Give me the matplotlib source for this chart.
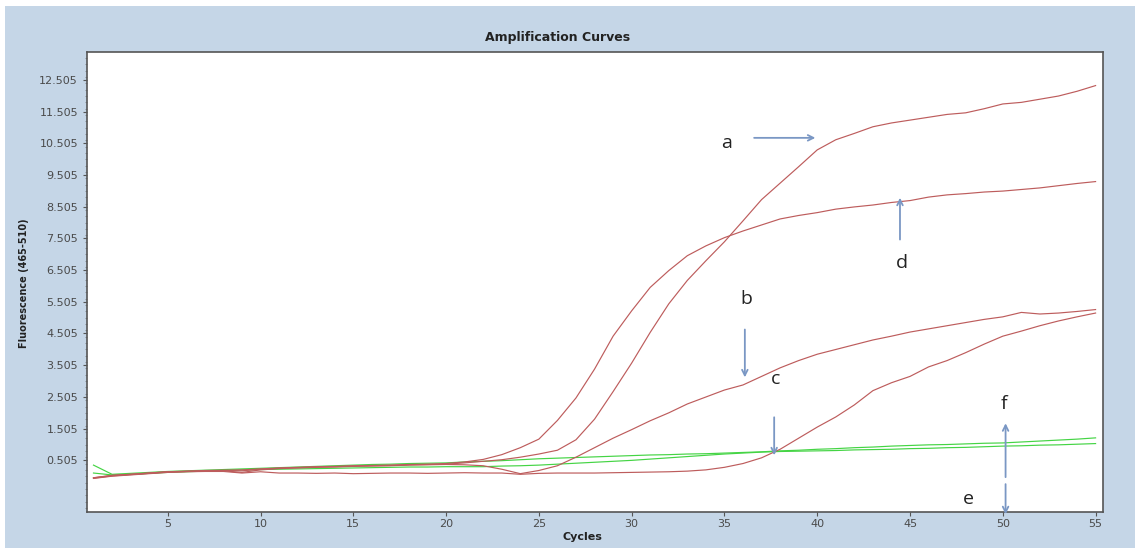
import matplotlib.pyplot as plt
import numpy as np
from matplotlib.patches import Rectangle

cycles = list(range(1, 56))

# red sample curves (fluorescence, one value per cycle)
curve_a = [-0.05, 0.02, 0.06, 0.10, 0.14, 0.15, 0.17, 0.18, 0.17, 0.22,
           0.25, 0.27, 0.29, 0.30, 0.32, 0.33, 0.34, 0.36, 0.37, 0.38,
           0.42, 0.47, 0.52, 0.60, 0.70, 0.82, 1.15, 1.80, 2.67, 3.57,
           4.54, 5.44, 6.18, 6.80, 7.40, 8.06, 8.73, 9.25, 9.77, 10.30,
           10.62, 10.82, 11.03, 11.15, 11.24, 11.33, 11.42, 11.47, 11.60, 11.75,
           11.80, 11.90, 12.00, 12.15, 12.33]
curve_d = [-0.05, 0.03, 0.06, 0.10, 0.14, 0.16, 0.18, 0.19, 0.20, 0.23,
           0.26, 0.28, 0.30, 0.31, 0.33, 0.34, 0.35, 0.37, 0.38, 0.40,
           0.45, 0.53, 0.68, 0.90, 1.17, 1.76, 2.47, 3.38, 4.42, 5.22,
           5.96, 6.49, 6.96, 7.27, 7.53, 7.74, 7.93, 8.12, 8.23, 8.32,
           8.43, 8.50, 8.56, 8.64, 8.70, 8.81, 8.88, 8.92, 8.97, 9.00,
           9.05, 9.10, 9.17, 9.24, 9.30]
curve_b = [-0.06, 0.01, 0.05, 0.09, 0.13, 0.15, 0.16, 0.17, 0.12, 0.20,
           0.24, 0.26, 0.28, 0.29, 0.31, 0.32, 0.33, 0.35, 0.36, 0.37,
           0.36, 0.33, 0.22, 0.08, 0.18, 0.33, 0.60, 0.90, 1.20, 1.47,
           1.75, 2.00, 2.28, 2.50, 2.72, 2.88, 3.15, 3.42, 3.65, 3.85,
           4.00, 4.15, 4.30, 4.42, 4.55, 4.65, 4.75, 4.85, 4.95, 5.03,
           5.17, 5.12, 5.15, 5.20, 5.26]
curve_c = [-0.07, 0.00, 0.04, 0.08, 0.12, 0.14, 0.15, 0.15, 0.10, 0.14,
           0.10, 0.10, 0.09, 0.10, 0.08, 0.09, 0.10, 0.10, 0.09, 0.10,
           0.11, 0.10, 0.10, 0.06, 0.09, 0.10, 0.10, 0.10, 0.11, 0.12,
           0.13, 0.14, 0.16, 0.20, 0.28, 0.40, 0.58, 0.85, 1.20, 1.55,
           1.87, 2.25, 2.70, 2.95, 3.15, 3.45, 3.65, 3.90, 4.17, 4.42,
           4.58, 4.75, 4.90, 5.03, 5.15]

# green negative curves
curve_f = [0.35, 0.06, 0.09, 0.12, 0.15, 0.17, 0.19, 0.21, 0.23, 0.25,
           0.27, 0.29, 0.31, 0.33, 0.35, 0.37, 0.38, 0.40, 0.41, 0.42,
           0.45, 0.47, 0.49, 0.52, 0.55, 0.57, 0.59, 0.61, 0.63, 0.65,
           0.67, 0.68, 0.70, 0.71, 0.73, 0.75, 0.77, 0.80, 0.82, 0.85,
           0.87, 0.90, 0.92, 0.95, 0.97, 0.99, 1.00, 1.02, 1.04, 1.05,
           1.08, 1.11, 1.14, 1.17, 1.21]
curve_e = [0.10, 0.04, 0.06, 0.09, 0.12, 0.14, 0.16, 0.18, 0.20, 0.21,
           0.22, 0.23, 0.24, 0.25, 0.26, 0.27, 0.28, 0.29, 0.29, 0.30,
           0.30, 0.30, 0.32, 0.33, 0.35, 0.38, 0.41, 0.44, 0.47, 0.50,
           0.54, 0.58, 0.62, 0.66, 0.70, 0.73, 0.76, 0.78, 0.79, 0.80,
           0.81, 0.83, 0.84, 0.85, 0.87, 0.88, 0.90, 0.91, 0.93, 0.95,
           0.96, 0.98, 0.99, 1.01, 1.03]

ytick_vals = [0.505 + i for i in range(13)]
xtick_vals = [5, 10, 15, 20, 25, 30, 35, 40, 45, 50, 55]

# label letter, text position, arrow start, arrow end (data coords)
labels = [
    ('a', (35.1, 10.52), (36.6, 10.68), (39.9, 10.68)),
    ('d', (44.57, 6.74), (44.46, 7.47), (44.46, 8.79)),
    ('b', (36.2, 5.58), (36.1, 4.63), (36.1, 3.12)),
    ('c', (37.74, 3.06), (37.68, 1.86), (37.68, 0.66)),
    ('f', (50.04, 2.27), (50.15, -0.03), (50.15, 1.67)),
    ('e', (48.14, -0.72), (50.15, -0.25), (50.15, -1.2)),
]

bg = '#c5d6e7'
red = '#bd5c5c'
green = '#44d444'

fig = plt.figure(figsize=(11.35, 5.48), dpi=100, facecolor='white')
fig.patches.append(Rectangle((5 / 1135, 0), 1 - 5 / 1135, 1 - 6 / 548,
                             transform=fig.transFigure, facecolor=bg,
                             edgecolor='none', zorder=-10))

ax = fig.add_axes([87 / 1135, 1 - 512 / 548, (1103 - 87) / 1135, (512 - 52) / 548])
ax.set_facecolor('white')

for ys in [curve_e, curve_f]:
    ax.plot(cycles, ys, color=green, lw=0.85)
for ys in [curve_c, curve_b, curve_d, curve_a]:
    ax.plot(cycles, ys, color=red, lw=0.85)

ax.set_xlim(0.65, 55.4)
ax.set_ylim(-1.13, 13.39)
ax.set_xticks(xtick_vals)
ax.set_yticks(ytick_vals)
ax.set_yticklabels([f'{v:.3f}' for v in ytick_vals])
ax.set_yticks(np.arange(-1.0, 13.4, 0.2), minor=True)
ax.tick_params(axis='both', labelsize=8, labelcolor='#4a4a4a', color='#555555',
               length=3, width=0.8)
ax.tick_params(axis='y', which='minor', length=1.5, width=0.5, color='#777777')
ax.tick_params(axis='x', pad=2)
for s in ax.spines.values():
    s.set_color('#555555')
    s.set_linewidth(1.2)

fig.text(558 / 1135, 1 - 38 / 548, 'Amplification Curves', ha='center',
         va='center', fontsize=9, fontweight='bold', color='#222222')
fig.text(582 / 1135, 1 - 537 / 548, 'Cycles', ha='center', va='center',
         fontsize=8, fontweight='bold', color='#222222')
fig.text(24 / 1135, 1 - 283 / 548, 'Fluorescence (465-510)', ha='center',
         va='center', rotation=90, fontsize=7, fontweight='bold',
         color='#222222')

for letter, tpos, start, end in labels:
    ax.text(tpos[0], tpos[1], letter, ha='center', va='center', fontsize=14,
            family='Open Sans', color='#222222', clip_on=False)
    ax.annotate('', xy=end, xytext=start, annotation_clip=False,
                arrowprops=dict(arrowstyle='->', color='#7a97c4', lw=1.3,
                                shrinkA=0, shrinkB=0))

plt.savefig('out.png', dpi=100, facecolor=fig.get_facecolor())
